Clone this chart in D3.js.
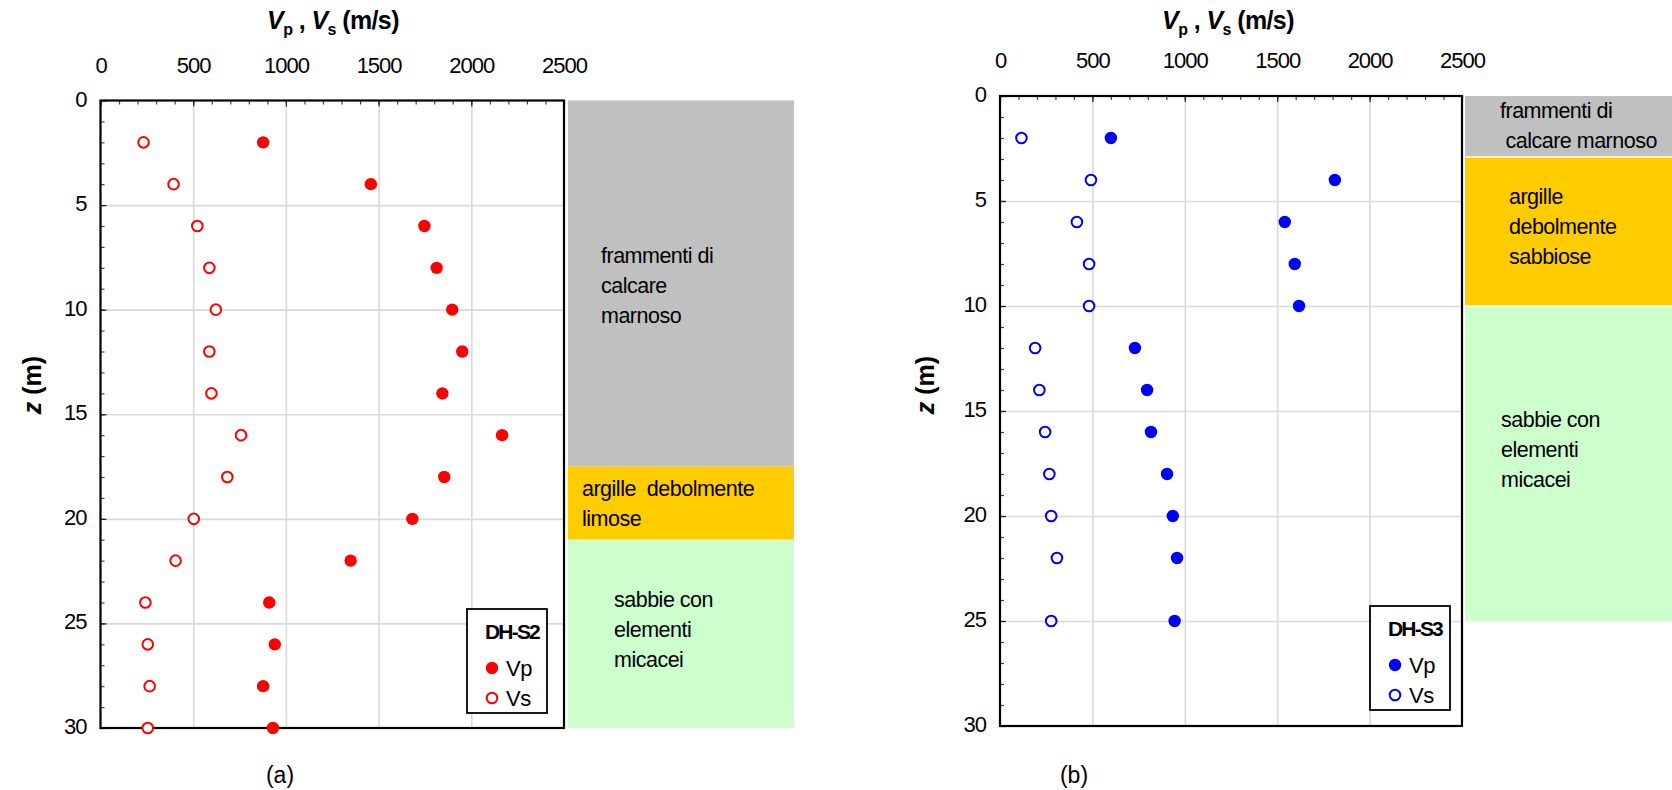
<!DOCTYPE html>
<html>
<head>
<meta charset="utf-8">
<script src="https://cdn.jsdelivr.net/npm/d3@7"></script>
<style>
  html, body { margin: 0; padding: 0; background: #fff; }
  svg { display: block; font-family: "Liberation Sans", Arial, sans-serif; }
</style>
</head>
<body>
<svg id="chart" width="1672" height="790"></svg>
<script>
// Down-hole DH-S2: depth (m), P-wave and S-wave velocities (m/s)
const depthS2 = [2, 4, 6, 8, 10, 12, 14, 16, 18, 20, 22, 24, 26, 28, 30];
const vpS2 = [877, 1458, 1747, 1813, 1897, 1951, 1844, 2166, 1854, 1682, 1349, 910, 940, 877, 930];
const vsS2 = [232, 394, 522, 587, 622, 587, 598, 758, 684, 503, 405, 242, 255, 265, 255];

// Down-hole DH-S3
const depthS3 = [2, 4, 6, 8, 10, 12, 14, 16, 18, 20, 22, 25];
const vpS3 = [600, 1812, 1541, 1595, 1618, 730, 796, 817, 904, 935, 958, 945];
const vsS3 = [116, 492, 416, 482, 482, 190, 213, 244, 267, 277, 308, 277];

// Stratigraphy beside each log: layer top / bottom (m) and description lines
const layersS2Top = [0, 17.5, 21];
const layersS2Bottom = [17.5, 21, 30];
const layersS2Text = [["frammenti di", "calcare", "marnoso"], ["argille  debolmente", "limose"], ["sabbie con", "elementi", "micacei"]];
const layersS3Top = [0, 2.9, 10];
const layersS3Bottom = [2.9, 10, 25];
const layersS3Text = [["frammenti di", " calcare marnoso"], ["argille", "debolmente", "sabbiose"], ["sabbie con", "elementi", "micacei"]];

// Axis ticks
const velocityTicks = [0, 500, 1000, 1500, 2000, 2500];
const depthTicks = [0, 5, 10, 15, 20, 25, 30];

const layerFill = ["#c0c0c0", "#ffcc00", "#ccffcc"];
const FONT = "Liberation Sans, Arial, sans-serif";

const svg = d3.select("#chart");

function drawPanel(opt) {
  const g = svg.append("g");
  const x = d3.scaleLinear().domain([0, 2500]).range([opt.left, opt.right]);
  const y = d3.scaleLinear().domain([0, 30]).range([opt.top, opt.bottom]);
  const w = opt.right - opt.left, h = opt.bottom - opt.top;

  // soil column
  const strip = g.append("g");
  opt.layerTop.forEach((t, i) => {
    const b = opt.layerBottom[i];
    strip.append("rect")
      .attr("x", opt.stripX0).attr("width", opt.stripX1 - opt.stripX0)
      .attr("y", y(t)).attr("height", y(b) - y(t))
      .attr("fill", layerFill[i]);
    const lines = opt.layerText[i];
    const cy = (y(t) + y(b)) / 2 + opt.textDy[i];
    const lh = 30;
    lines.forEach((s, k) => {
      strip.append("text")
        .attr("x", opt.stripX0 + opt.textDx[i])
        .attr("y", cy + (k - (lines.length - 1) / 2) * lh)
        .attr("dominant-baseline", "central")
        .attr("font-size", 21.5)
        .attr("letter-spacing", "-0.5px")
        .style("white-space", "pre")
        .text(s);
    });
  });
  if (opt.layerGap) {
    opt.layerTop.slice(1).forEach(t => {
      strip.append("line")
        .attr("x1", opt.stripX0).attr("x2", opt.stripX1)
        .attr("y1", y(t)).attr("y2", y(t))
        .attr("stroke", "#fff").attr("stroke-width", 1.5);
    });
  }

  // plot background
  g.append("rect").attr("x", opt.left).attr("y", opt.top)
    .attr("width", w).attr("height", h).attr("fill", "#fff");

  // gridlines
  g.append("g").attr("transform", `translate(0,${opt.top})`)
    .call(d3.axisTop(x).tickValues(velocityTicks.slice(1, -1)).tickSize(-h).tickFormat(""))
    .call(a => a.select(".domain").remove())
    .call(a => a.selectAll("line").attr("stroke", "#d9d9d9").attr("stroke-width", 1.6));
  g.append("g").attr("transform", `translate(${opt.left},0)`)
    .call(d3.axisLeft(y).tickValues(depthTicks.slice(1, -1)).tickSize(-w).tickFormat(""))
    .call(a => a.select(".domain").remove())
    .call(a => a.selectAll("line").attr("stroke", "#d9d9d9").attr("stroke-width", 1.6));

  // minor ticks (inward)
  g.append("g").attr("transform", `translate(0,${opt.top})`)
    .call(d3.axisTop(x).tickValues(d3.range(100, 2500, 100)).tickSizeInner(-4).tickSizeOuter(0).tickFormat(""))
    .call(a => a.select(".domain").remove())
    .call(a => a.selectAll("line").attr("stroke", "#444").attr("stroke-width", 1.2));
  g.append("g").attr("transform", `translate(${opt.left},0)`)
    .call(d3.axisLeft(y).tickValues(d3.range(1, 30, 1)).tickSizeInner(-4).tickSizeOuter(0).tickFormat(""))
    .call(a => a.select(".domain").remove())
    .call(a => a.selectAll("line").attr("stroke", "#444").attr("stroke-width", 1.2));

  // major axes with labels
  g.append("g").attr("transform", `translate(0,${opt.top})`)
    .call(d3.axisTop(x).tickValues(velocityTicks).tickFormat(d3.format("d"))
      .tickSizeInner(-6).tickSizeOuter(0).tickPadding(28))
    .call(a => a.select(".domain").remove())
    .call(a => a.selectAll("line").attr("stroke", "#222").attr("stroke-width", 1.2))
    .call(a => a.selectAll("text").attr("font-size", 22).attr("letter-spacing", "-1px")
      .attr("fill", "#000").attr("font-family", FONT));
  g.append("g").attr("transform", `translate(${opt.left},0)`)
    .call(d3.axisLeft(y).tickValues(depthTicks).tickFormat(d3.format("d"))
      .tickSizeInner(-6).tickSizeOuter(0).tickPadding(14))
    .call(a => a.select(".domain").remove())
    .call(a => a.selectAll("line").attr("stroke", "#222").attr("stroke-width", 1.2))
    .call(a => a.selectAll("text").attr("font-size", 22).attr("letter-spacing", "-1px")
      .attr("fill", "#000").attr("dy", "0.25em").attr("font-family", FONT));

  // plot frame
  g.append("rect").attr("x", opt.left).attr("y", opt.top)
    .attr("width", w).attr("height", h)
    .attr("fill", "none").attr("stroke", "#000").attr("stroke-width", 2.2);

  // data points
  const pts = g.append("g");
  pts.selectAll("circle.vp").data(opt.depth).join("circle")
    .attr("class", "vp")
    .attr("cx", (d, i) => x(opt.vp[i])).attr("cy", d => y(d))
    .attr("r", 6.2).attr("fill", opt.color);
  pts.selectAll("circle.vs").data(opt.depth).join("circle")
    .attr("class", "vs")
    .attr("cx", (d, i) => x(opt.vs[i])).attr("cy", d => y(d))
    .attr("r", 5.3).attr("fill", "#fff").attr("stroke", opt.color).attr("stroke-width", 2);

  // axis title
  const t = g.append("text")
    .attr("x", opt.titleX).attr("y", 29)
    .attr("text-anchor", "middle")
    .attr("font-size", 25).attr("font-weight", "bold").attr("letter-spacing", "-0.6px");
  t.append("tspan").attr("font-style", "italic").text("V");
  t.append("tspan").attr("font-size", 16).attr("dy", 6).text("p");
  t.append("tspan").attr("dy", -6).text(" , ");
  t.append("tspan").attr("font-style", "italic").text("V");
  t.append("tspan").attr("font-size", 16).attr("dy", 6).text("s");
  t.append("tspan").attr("dy", -6).text(" (m/s)");

  g.append("text")
    .attr("transform", `translate(${opt.zLabelX},385) rotate(-90)`)
    .attr("text-anchor", "middle").attr("dominant-baseline", "central")
    .attr("font-size", 25).attr("font-weight", "bold")
    .html('<tspan font-style="italic">z</tspan> (m)');

  // legend
  const lg = g.append("g").attr("transform", `translate(${opt.legX},${opt.legY})`);
  lg.append("rect").attr("width", 80).attr("height", 104)
    .attr("fill", "#fff").attr("stroke", "#000").attr("stroke-width", 1.8);
  lg.append("text").attr("x", 45).attr("y", 22).attr("text-anchor", "middle")
    .attr("dominant-baseline", "central")
    .attr("font-size", 21).attr("font-weight", "bold").attr("letter-spacing", "-1.8px")
    .text(opt.name);
  lg.append("circle").attr("cx", 25).attr("cy", 59).attr("r", 6.2).attr("fill", opt.color);
  lg.append("circle").attr("cx", 25).attr("cy", 89).attr("r", 5.3)
    .attr("fill", "#fff").attr("stroke", opt.color).attr("stroke-width", 2);
  lg.append("text").attr("x", 39).attr("y", 59).attr("dominant-baseline", "central")
    .attr("font-size", 22).attr("letter-spacing", "-0.5px").text("Vp");
  lg.append("text").attr("x", 39).attr("y", 89).attr("dominant-baseline", "central")
    .attr("font-size", 22).attr("letter-spacing", "-0.5px").text("Vs");

  // panel caption
  g.append("text").attr("x", opt.captionX).attr("y", 775)
    .attr("text-anchor", "middle").attr("dominant-baseline", "central")
    .attr("font-size", 23).text(opt.caption);
}

drawPanel({
  left: 100.5, right: 564, top: 100.5, bottom: 728,
  stripX0: 568, stripX1: 794,
  layerTop: layersS2Top, layerBottom: layersS2Bottom, layerText: layersS2Text,
  textDx: [33, 14, 46], textDy: [2, 1, -4], layerGap: false,
  depth: depthS2, vp: vpS2, vs: vsS2, color: "#ff0000",
  name: "DH-S2", legX: 467, legY: 609,
  titleX: 333, zLabelX: 32, captionX: 280, caption: "(a)"
});

drawPanel({
  left: 1000, right: 1462, top: 96, bottom: 726,
  stripX0: 1465, stripX1: 1672,
  layerTop: layersS3Top, layerBottom: layersS3Bottom, layerText: layersS3Text,
  textDx: [35, 44, 36], textDy: [0, -4, -14], layerGap: true,
  depth: depthS3, vp: vpS3, vs: vsS3, color: "#0000ff",
  name: "DH-S3", legX: 1370, legY: 606,
  titleX: 1228, zLabelX: 925, captionX: 1074, caption: "(b)"
});
</script>
</body>
</html>
